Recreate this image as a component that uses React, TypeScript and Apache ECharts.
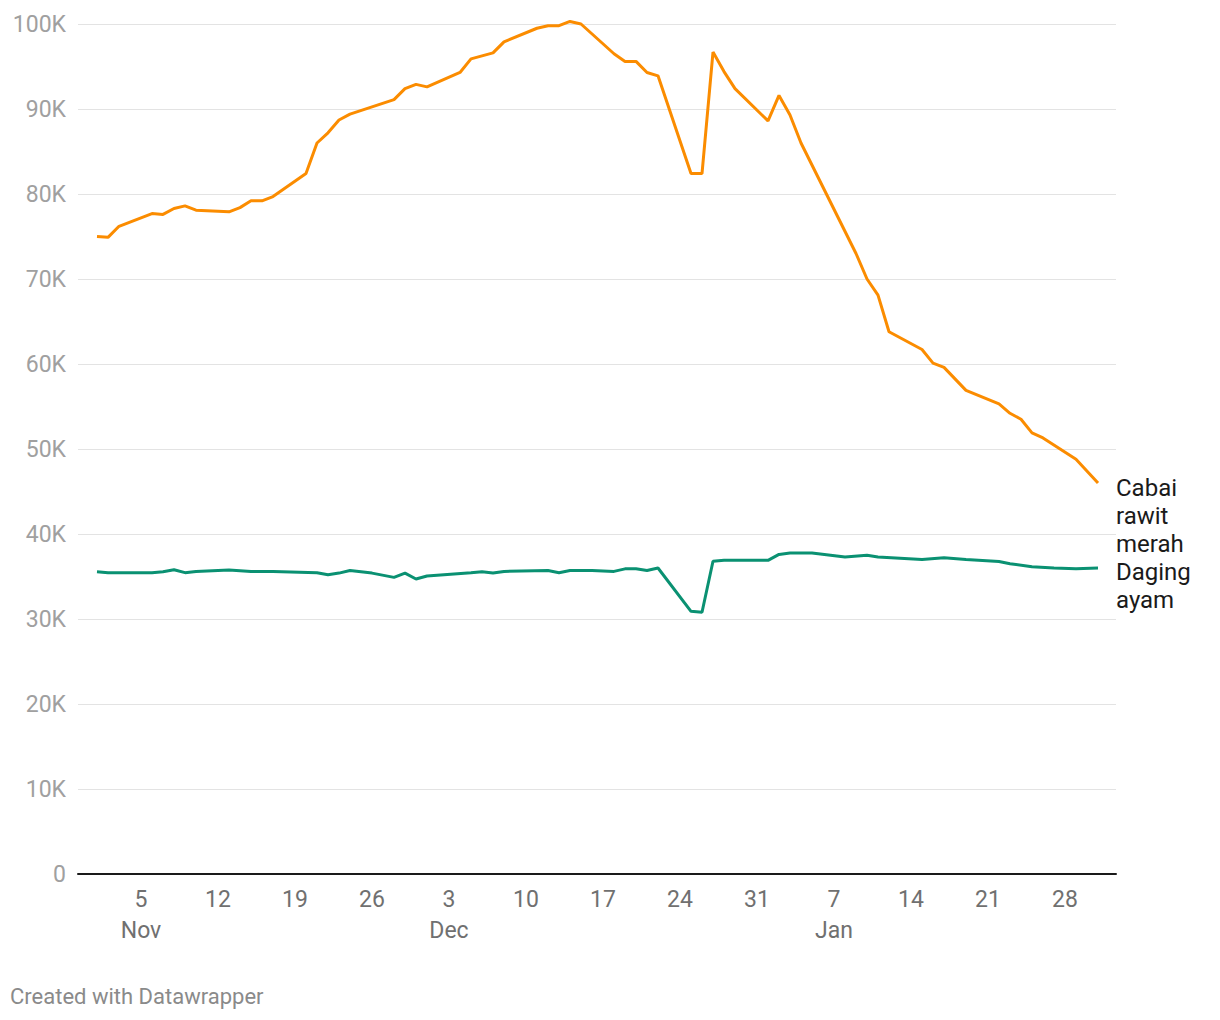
import React, { useEffect, useRef } from "react";
import * as echarts from "echarts";

// Day offsets from 1 Nov; values in rupiah
const orangeDays = [0, 1, 2, 5, 6, 7, 8, 9, 12, 13, 14, 15, 16, 19, 20, 21, 22, 23, 27, 28, 29, 30, 33, 34, 36, 37, 40, 41, 42, 43, 44, 47, 48, 49, 50, 51, 54, 55, 56, 57, 58, 61, 62, 63, 64, 69, 70, 71, 72, 75, 76, 77, 79, 82, 83, 84, 85, 86, 89, 91];
const orangeValues = [75000, 74900, 76200, 77700, 77600, 78300, 78600, 78100, 77900, 78400, 79200, 79200, 79700, 82400, 86000, 87200, 88700, 89400, 91100, 92400, 92900, 92600, 94300, 95900, 96600, 97900, 99500, 99800, 99800, 100300, 100000, 96500, 95600, 95600, 94300, 93900, 82400, 82400, 96700, 94400, 92400, 88600, 91600, 89300, 86000, 73000, 70000, 68100, 63800, 61700, 60100, 59600, 56900, 55300, 54200, 53500, 51900, 51300, 48800, 46000];

const greenDays = [0, 1, 5, 6, 7, 8, 9, 12, 14, 16, 20, 21, 22, 23, 25, 27, 28, 29, 30, 34, 35, 36, 37, 41, 42, 43, 45, 47, 48, 49, 50, 51, 54, 55, 56, 57, 61, 62, 63, 65, 68, 70, 71, 75, 77, 79, 82, 83, 85, 87, 89, 91];
const greenValues = [35560, 35450, 35450, 35560, 35800, 35450, 35600, 35760, 35600, 35600, 35450, 35200, 35400, 35700, 35400, 34900, 35400, 34700, 35060, 35450, 35560, 35400, 35600, 35700, 35450, 35700, 35700, 35600, 35900, 35900, 35700, 36000, 30900, 30800, 36800, 36900, 36900, 37600, 37760, 37760, 37300, 37500, 37300, 37000, 37200, 37000, 36760, 36500, 36160, 36000, 35900, 36000];

const seriesNames = ["Cabai rawit merah", "Daging ayam"];
const tickDays = [4, 11, 18, 25, 32, 39, 46, 53, 60, 67, 74, 81, 88];
const tickLabels = ["5\nNov", "12", "19", "26", "3\nDec", "10", "17", "24", "31", "7\nJan", "14", "21", "28"];

export default function App() {
  const ref = useRef<HTMLDivElement>(null);
  useEffect(() => {
    document.body.style.margin = "0";
    if (!ref.current) return;
    const chart = echarts.init(ref.current, undefined, { renderer: "svg" });
    const font = "Roboto, 'Noto Sans', sans-serif";
    chart.setOption({
      animation: false,
      backgroundColor: "#ffffff",
      grid: { left: 78, right: 104, top: 24, bottom: 146, containLabel: false },
      xAxis: {
        type: "value",
        min: -1.727,
        max: 92.636,
        splitLine: { show: false },
        axisLine: { show: true, lineStyle: { color: "#1a1a1a", width: 2 } },
        axisTick: { show: false },
        axisLabel: {
          customValues: tickDays,
          formatter: (v: number) => {
            const i = tickDays.indexOf(Math.round(v));
            return i >= 0 ? tickLabels[i] : "";
          },
          color: "#707070",
          fontSize: 23,
          fontFamily: font,
          lineHeight: 31,
          margin: 10,
        },
      },
      yAxis: {
        type: "value",
        min: 0,
        max: 100000,
        interval: 10000,
        axisLine: { show: false },
        axisTick: { show: false },
        splitLine: { lineStyle: { color: "#e3e3e3", width: 1 } },
        axisLabel: {
          formatter: (v: number) => (v === 0 ? "0" : v / 1000 + "K"),
          color: "#a0a0a0",
          fontSize: 23,
          fontFamily: font,
          margin: 12,
        },
      },
      series: [
        {
          name: seriesNames[0],
          type: "line",
          data: orangeDays.map((d, i) => [d, orangeValues[i]]),
          showSymbol: false,
          clip: false,
          lineStyle: { color: "#fb8c00", width: 3 },
          itemStyle: { color: "#fb8c00" },
          z: 3,
        },
        {
          name: seriesNames[1],
          type: "line",
          data: greenDays.map((d, i) => [d, greenValues[i]]),
          showSymbol: false,
          clip: false,
          lineStyle: { color: "#0a9172", width: 3 },
          itemStyle: { color: "#0a9172" },
          z: 2,
        },
      ],
      graphic: [
        {
          type: "text",
          left: 1116,
          top: 474,
          style: { text: "Cabai\nrawit\nmerah", fill: "#1a1a1a", fontSize: 24, lineHeight: 28, fontFamily: font },
        },
        {
          type: "text",
          left: 1116,
          top: 558,
          style: { text: "Daging\nayam", fill: "#1a1a1a", fontSize: 24, lineHeight: 28, fontFamily: font },
        },
        {
          type: "text",
          left: 10,
          top: 985,
          style: { text: "Created with Datawrapper", fill: "#8a8a8a", fontSize: 22, fontFamily: font },
        },
      ],
    });
    return () => chart.dispose();
  }, []);
  return <div ref={ref} style={{ width: 1220, height: 1020 }} />;
}
